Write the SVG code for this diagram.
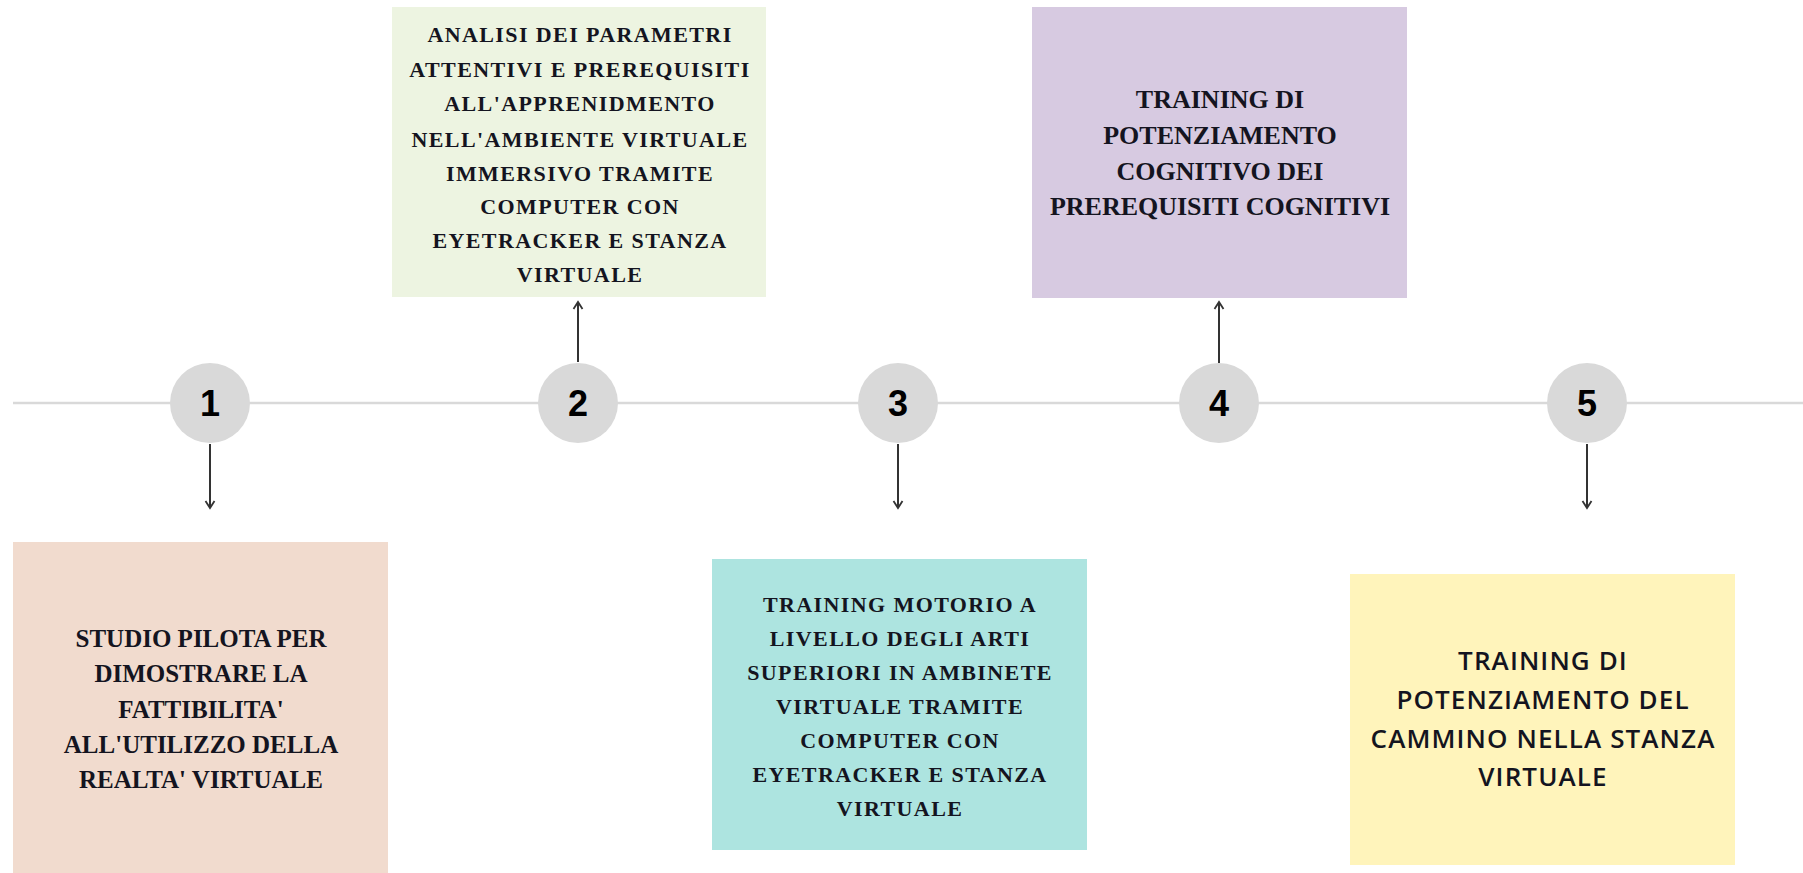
<svg xmlns="http://www.w3.org/2000/svg" width="1803" height="873" viewBox="0 0 1803 873">
<style>
.serif{font-family:"Liberation Serif","Times New Roman",serif;font-weight:bold;fill:#141420;text-anchor:middle}
.s21{font-size:22px;letter-spacing:1.4px}
.s25{font-size:25px}
.s26{font-size:26px}
.sans{font-family:"Open Sans","Liberation Sans",sans-serif;font-weight:600;font-size:26px;letter-spacing:1.1px;fill:#141420;text-anchor:middle}
.num{font-family:"Liberation Sans",Arial,sans-serif;font-weight:bold;font-size:36px;fill:#000;text-anchor:middle}
.dot{fill:#D9D9D9}
.conn{stroke:#333;stroke-width:2;fill:none;marker-end:url(#arr)}
</style>
<defs>
<marker id="arr" viewBox="0 0 12 12" refX="10" refY="6" markerWidth="12" markerHeight="12" markerUnits="userSpaceOnUse" orient="auto">
<polyline points="3,1.5 10,6 3,10.5" fill="none" stroke="#333" stroke-width="1.8"/>
</marker>
</defs>
<rect width="1803" height="873" fill="#fff"/>
<line x1="13" y1="403" x2="1803" y2="403" stroke="#D9D9D9" stroke-width="2.5"/>
<g id="connectors">
<line class="conn" x1="210" y1="444" x2="210" y2="508"/>
<line class="conn" x1="578" y1="362" x2="578" y2="302"/>
<line class="conn" x1="898" y1="444" x2="898" y2="508"/>
<line class="conn" x1="1219" y1="363" x2="1219" y2="302"/>
<line class="conn" x1="1587" y1="444" x2="1587" y2="508"/>
</g>
<g id="step1"><circle class="dot" cx="210" cy="403" r="40"/><text class="num" x="210" y="416">1</text></g>
<g id="step2"><circle class="dot" cx="578" cy="403" r="40"/><text class="num" x="578" y="416">2</text></g>
<g id="step3"><circle class="dot" cx="898" cy="403" r="40"/><text class="num" x="898" y="416">3</text></g>
<g id="step4"><circle class="dot" cx="1219" cy="403" r="40"/><text class="num" x="1219" y="416">4</text></g>
<g id="step5"><circle class="dot" cx="1587" cy="403" r="40"/><text class="num" x="1587" y="416">5</text></g>
<g id="box1">
<rect x="13" y="542" width="375" height="340" fill="#F1DBCE"/>
<text class="serif s25" x="201"><tspan x="201" y="647">STUDIO PILOTA PER</tspan><tspan x="201" y="682">DIMOSTRARE LA</tspan><tspan x="201" y="718">FATTIBILITA'</tspan><tspan x="201" y="753">ALL'UTILIZZO DELLA</tspan><tspan x="201" y="788">REALTA' VIRTUALE</tspan></text>
</g>
<g id="box2">
<rect x="392" y="7" width="374" height="290" fill="#EDF4E1"/>
<text class="serif s21" x="580"><tspan x="580" y="42">ANALISI DEI PARAMETRI</tspan><tspan x="580" y="77">ATTENTIVI E PREREQUISITI</tspan><tspan x="580" y="111">ALL'APPRENIDMENTO</tspan><tspan x="580" y="147">NELL'AMBIENTE VIRTUALE</tspan><tspan x="580" y="181">IMMERSIVO TRAMITE</tspan><tspan x="580" y="214">COMPUTER CON</tspan><tspan x="580" y="248">EYETRACKER E STANZA</tspan><tspan x="580" y="282">VIRTUALE</tspan></text>
</g>
<g id="box3">
<rect x="712" y="559" width="375" height="291" fill="#ADE4E0"/>
<text class="serif s21" x="900"><tspan x="900" y="612">TRAINING MOTORIO A</tspan><tspan x="900" y="646">LIVELLO DEGLI ARTI</tspan><tspan x="900" y="680">SUPERIORI IN AMBINETE</tspan><tspan x="900" y="714">VIRTUALE TRAMITE</tspan><tspan x="900" y="748">COMPUTER CON</tspan><tspan x="900" y="782">EYETRACKER E STANZA</tspan><tspan x="900" y="816">VIRTUALE</tspan></text>
</g>
<g id="box4">
<rect x="1032" y="7" width="375" height="291" fill="#D7CAE1"/>
<text class="serif s26" x="1220"><tspan x="1220" y="108">TRAINING DI</tspan><tspan x="1220" y="144">POTENZIAMENTO</tspan><tspan x="1220" y="180">COGNITIVO DEI</tspan><tspan x="1220" y="215">PREREQUISITI COGNITIVI</tspan></text>
</g>
<g id="box5">
<rect x="1350" y="574" width="385" height="291" fill="#FFF4BB"/>
<text class="sans" x="1543"><tspan x="1543" y="670">TRAINING DI</tspan><tspan x="1543" y="709">POTENZIAMENTO DEL</tspan><tspan x="1543" y="748">CAMMINO NELLA STANZA</tspan><tspan x="1543" y="786">VIRTUALE</tspan></text>
</g>
</svg>
